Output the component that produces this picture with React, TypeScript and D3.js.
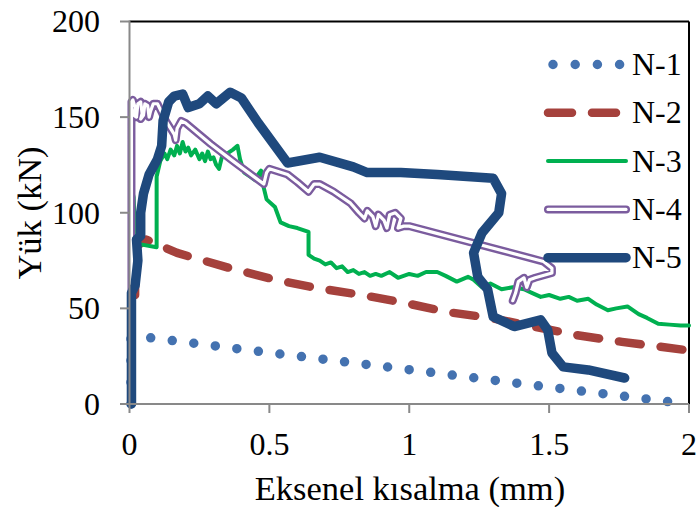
import React from "react";
import { scaleLinear, line } from "d3";

const width = 698;
const height = 507;

const xTicks = [0, 0.5, 1, 1.5, 2];
const yTicks = [0, 50, 100, 150, 200];
const xTickLabels = ["0", "0.5", "1", "1.5", "2"];

const seriesNames = ["N-1", "N-2", "N-3", "N-4", "N-5"];

// values: [kısalma (mm), yük (kN)]
const n1: [number, number][] = [
  [0.005, 0], [0.005, 35], [0.054, 35], [0.5, 26.8], [0.92, 19.4], [1.5, 8.8], [1.94, 1],
];
const n2: [number, number][] = [
  [0.02, 57], [0.02, 82], [0.06, 86], [0.17, 79], [0.36, 71], [0.52, 65], [0.67, 60.6],
  [0.83, 57], [0.98, 53], [1.14, 48], [1.29, 45], [1.6, 36], [1.76, 32.5], [2.0, 28],
];
const n3: [number, number][] = [
  [0.003, 0], [0.003, 116], [0.015, 108], [0.02, 84], [0.097, 82], [0.097, 119], [0.11, 127],
  [0.125, 131], [0.135, 128], [0.147, 133], [0.16, 130], [0.17, 135], [0.18, 131], [0.19, 137],
  [0.2, 132], [0.21, 134], [0.22, 130], [0.235, 133], [0.25, 128], [0.26, 131], [0.27, 127],
  [0.28, 132], [0.29, 128], [0.3, 129], [0.31, 125], [0.32, 123], [0.33, 129], [0.35, 131],
  [0.37, 133], [0.386, 135], [0.395, 128], [0.41, 121], [0.43, 119], [0.45, 117], [0.46, 120],
  [0.47, 122], [0.48, 113], [0.49, 107], [0.52, 103], [0.54, 95], [0.57, 93], [0.6, 92],
  [0.64, 90], [0.64, 78], [0.66, 76], [0.68, 75], [0.7, 73], [0.72, 74], [0.74, 71], [0.76, 72],
  [0.78, 69], [0.8, 70], [0.82, 68], [0.84, 69], [0.86, 67], [0.88, 68], [0.9, 67], [0.93, 69],
  [0.96, 66], [1.0, 68], [1.03, 67], [1.06, 69], [1.1, 69], [1.13, 67], [1.17, 64], [1.21, 66.5],
  [1.23, 65], [1.26, 61], [1.29, 63], [1.33, 60], [1.37, 61], [1.41, 60], [1.44, 58], [1.47, 56],
  [1.5, 57], [1.54, 55], [1.57, 56], [1.6, 54], [1.64, 55], [1.67, 52], [1.71, 49], [1.74, 50],
  [1.78, 51], [1.82, 47], [1.85, 45], [1.89, 42], [1.93, 41.5], [1.97, 41], [2.0, 41],
];
const n4: [number, number][] = [
  [0.007, 0], [0.007, 158], [0.012, 159], [0.02, 155], [0.015, 151], [0.025, 150], [0.03, 157],
  [0.04, 158], [0.045, 152], [0.04, 149], [0.05, 151], [0.055, 157], [0.065, 156], [0.07, 150],
  [0.075, 153], [0.085, 157], [0.1, 157], [0.11, 154], [0.13, 148], [0.16, 141], [0.165, 138],
  [0.17, 144], [0.185, 148], [0.2, 147], [0.29, 136], [0.37, 127], [0.48, 115], [0.49, 121],
  [0.5, 123], [0.565, 120], [0.6, 116], [0.64, 111], [0.66, 115], [0.68, 115], [0.73, 111],
  [0.79, 105], [0.82, 100], [0.84, 97], [0.85, 101], [0.87, 98], [0.88, 93], [0.89, 99],
  [0.91, 96], [0.92, 92], [0.93, 99], [0.95, 100], [0.97, 97], [0.96, 92], [0.98, 93],
  [1.0, 93], [1.48, 74.5], [1.51, 71], [1.51, 68.5], [1.45, 66], [1.43, 65], [1.42, 61],
  [1.41, 66], [1.39, 64], [1.38, 58], [1.37, 54],
];
const n5: [number, number][] = [
  [0.007, 0], [0.007, 58], [0.02, 62], [0.03, 75], [0.025, 86], [0.04, 88], [0.04, 100],
  [0.05, 110], [0.07, 120], [0.1, 128], [0.115, 135], [0.12, 148], [0.14, 158], [0.16, 161],
  [0.19, 162], [0.21, 155], [0.25, 157], [0.28, 161], [0.31, 157], [0.36, 163], [0.4, 160],
  [0.46, 147], [0.565, 126], [0.68, 129], [0.8, 124], [0.85, 121], [0.97, 121], [1.1, 120],
  [1.3, 118], [1.33, 110], [1.32, 100], [1.26, 89.5], [1.23, 79], [1.245, 66.5], [1.28, 60],
  [1.3, 45.6], [1.375, 40.5], [1.47, 44], [1.495, 38.7], [1.51, 26.7], [1.55, 19.4],
  [1.64, 17.8], [1.77, 13.6],
];

const seriesData = [n1, n2, n3, n4, n5];

const font = "'Liberation Serif', 'Times New Roman', serif";

function App() {
  const xScale = scaleLinear().domain([0, 2]).range([129.5, 689]);
  const yScale = scaleLinear().domain([0, 200]).range([404, 21.5]);
  const path = line<[number, number]>()
    .x((d) => xScale(d[0]))
    .y((d) => yScale(d[1]));

  const styles = [
    { stroke: "#4472B0", width: 9.5, dash: "0 21.7", cap: "round" },
    { stroke: "#A5413C", width: 8.5, dash: "22 20", cap: "round" },
    { stroke: "#00B050", width: 4, dash: undefined, cap: "round" },
    { stroke: "#7B5C9E", width: 8, dash: undefined, cap: "round" },
    { stroke: "#1F497D", width: 9.5, dash: undefined, cap: "round" },
  ];

  const legendX1 = 548;
  const legendX2 = 625;
  const legendY0 = 64.5;
  const legendStep = 48.3;

  return (
    <svg
      width={width}
      height={height}
      style={{ position: "absolute", left: 0, top: 0, background: "#fff" }}
    >
      {/* plot border (top/right) */}
      <line x1={xScale(0)} x2={xScale(2)} y1={yScale(200)} y2={yScale(200)} stroke="#000" strokeWidth={2} />
      <line x1={xScale(2)} x2={xScale(2)} y1={yScale(200)} y2={yScale(0)} stroke="#000" strokeWidth={2} />

      {/* series */}
      {seriesData.map((d, i) => (
        <g key={i}>
          <path
            d={path(d) || ""}
            fill="none"
            stroke={styles[i].stroke}
            strokeWidth={styles[i].width}
            strokeDasharray={styles[i].dash}
            strokeLinecap={styles[i].cap as any}
            strokeLinejoin="round"
          />
          {i === 3 && (
            <path d={path(d) || ""} fill="none" stroke="#fff" strokeWidth={3.2} strokeLinejoin="round" strokeLinecap="round" />
          )}
        </g>
      ))}

      {/* axes */}
      <line x1={xScale(0)} x2={xScale(0)} y1={yScale(200) - 1} y2={yScale(0) + 1} stroke="#898989" strokeWidth={2} />
      <line x1={xScale(0)} x2={xScale(2)} y1={yScale(0)} y2={yScale(0)} stroke="#898989" strokeWidth={2} />
      {yTicks.map((t, i) => (
        <g key={i} transform={`translate(0,${yScale(t)})`}>
          <line x1={120} x2={xScale(0)} stroke="#898989" strokeWidth={2} />
          <text x={100} dy=".34em" textAnchor="end" fontFamily={font} fontSize={32} fill="#000">
            {t}
          </text>
        </g>
      ))}
      {xTicks.map((t, i) => (
        <g key={i} transform={`translate(${xScale(t)},0)`}>
          <line y1={yScale(0)} y2={yScale(0) + 9} stroke="#898989" strokeWidth={2} />
          <text y={455} textAnchor="middle" fontFamily={font} fontSize={32} fill="#000">
            {xTickLabels[i]}
          </text>
        </g>
      ))}

      {/* axis titles */}
      <text x={410} y={500} textAnchor="middle" fontFamily={font} fontSize={34.5} fill="#000">
        Eksenel kısalma (mm)
      </text>
      <text
        transform={`translate(41,213) rotate(-90)`}
        textAnchor="middle"
        fontFamily={font}
        fontSize={34.5}
        fill="#000"
      >
        Yük (kN)
      </text>

      {/* legend */}
      {seriesNames.map((name, i) => {
        const yy = legendY0 + i * legendStep;
        const s = styles[i];
        return (
          <g key={name}>
            <line
              x1={legendX1 + (i === 0 ? 5 : 0)}
              x2={legendX2 + (i === 0 ? 0 : 1)}
              y1={yy}
              y2={yy}
              stroke={s.stroke}
              strokeWidth={s.width}
              strokeDasharray={i === 1 ? "24 20" : i === 0 ? "0 22.2" : s.dash}
              strokeLinecap={s.cap as any}
            />
            {i === 3 && (
              <line x1={legendX1} x2={legendX2 + 1} y1={yy} y2={yy} stroke="#fff" strokeWidth={3.2} strokeLinecap="round" />
            )}
            <text x={632} y={yy + 10.5} fontFamily={font} fontSize={32} fill="#000">
              {name}
            </text>
          </g>
        );
      })}
    </svg>
  );
}

export default App;
